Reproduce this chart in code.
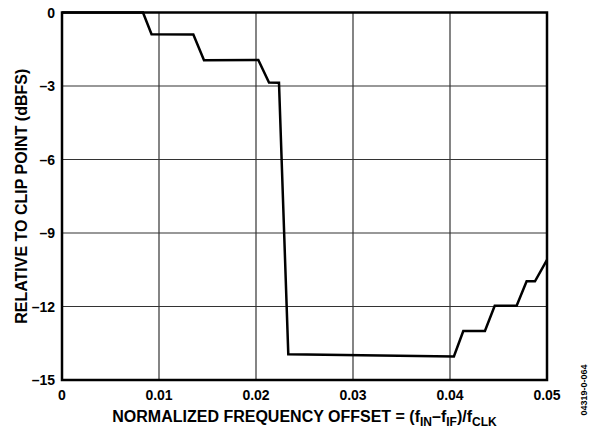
<!DOCTYPE html>
<html>
<head>
<meta charset="utf-8">
<script src="https://cdn.jsdelivr.net/npm/d3@7"></script>
<style>
  body { margin: 0; background: #fff; }
  text { font-family: Arial, "Liberation Sans", sans-serif; font-weight: bold; fill: #000; }
</style>
</head>
<body>
<script>
const width = 590;
const height = 431;

// Curve (normalized offset, dBFS).
const offsets = [0, 0.00835, 0.00923, 0.01354, 0.01464, 0.02024, 0.02134, 0.02237, 0.02333,
  0.0404, 0.04137, 0.0436, 0.04461, 0.04687, 0.0479, 0.04876, 0.05];
const levels = [0, 0, -0.89, -0.9, -1.95, -1.94, -2.86, -2.87, -13.95,
  -14.04, -13.0, -13.0, -11.97, -11.97, -10.97, -10.97, -10.1];

const xTicks = [0, 0.01, 0.02, 0.03, 0.04, 0.05];
const xTickLabels = ['0', '0.01', '0.02', '0.03', '0.04', '0.05'];
const yTicks = [0, -3, -6, -9, -12, -15];
const yTickLabels = ['0', '–3', '–6', '–9', '–12', '–15'];

let margin = { top: 12.5, right: 43, bottom: 51, left: 62 };

let svg = d3
  .select('body')
  .append('svg')
  .attr('width', width)
  .attr('height', height);

let xScale = d3
  .scaleLinear()
  .domain([0, 0.05])
  .range([margin.left, width - margin.right]);

let yScale = d3
  .scaleLinear()
  .domain([0, -15])
  .range([margin.top, height - margin.bottom]);

// Grid.
svg
  .append('g')
  .selectAll('line')
  .data(xTicks.slice(1, -1))
  .join('line')
  .attr('x1', (d) => xScale(d))
  .attr('x2', (d) => xScale(d))
  .attr('y1', yScale(0))
  .attr('y2', yScale(-15))
  .attr('stroke', '#333')
  .attr('stroke-width', 1.2);

svg
  .append('g')
  .selectAll('line')
  .data(yTicks.slice(1, -1))
  .join('line')
  .attr('x1', xScale(0))
  .attr('x2', xScale(0.05))
  .attr('y1', (d) => yScale(d))
  .attr('y2', (d) => yScale(d))
  .attr('stroke', '#333')
  .attr('stroke-width', 1.2);

// Frame.
svg
  .append('rect')
  .attr('x', xScale(0))
  .attr('y', yScale(0))
  .attr('width', xScale(0.05) - xScale(0))
  .attr('height', yScale(-15) - yScale(0))
  .attr('fill', 'none')
  .attr('stroke', '#000')
  .attr('stroke-width', 2.5);

// Tick labels.
svg
  .append('g')
  .selectAll('text')
  .data(xTicks)
  .join('text')
  .attr('x', (d) => xScale(d))
  .attr('y', yScale(-15) + 20)
  .attr('text-anchor', 'middle')
  .style('font-size', '14px')
  .text((d, i) => xTickLabels[i]);

svg
  .append('g')
  .selectAll('text')
  .data(yTicks)
  .join('text')
  .attr('x', xScale(0) - 7)
  .attr('y', (d) => yScale(d) + 5)
  .attr('text-anchor', 'end')
  .style('font-size', '14px')
  .text((d, i) => yTickLabels[i]);

// Data line.
let data = offsets.map((x, i) => ({ x: x, y: levels[i] }));
let line = d3
  .line()
  .x((d) => xScale(d.x))
  .y((d) => yScale(d.y));

svg
  .append('path')
  .datum(data)
  .attr('d', line)
  .attr('fill', 'none')
  .attr('stroke', '#000')
  .attr('stroke-width', 2.5)
  .attr('stroke-linejoin', 'miter');

// Axis titles.
let xTitle = svg
  .append('text')
  .attr('x', (xScale(0) + xScale(0.05)) / 2)
  .attr('y', 422)
  .attr('text-anchor', 'middle')
  .style('font-size', '16px');
xTitle.append('tspan').text('NORMALIZED FREQUENCY OFFSET = (f');
xTitle.append('tspan').attr('dy', 4).style('font-size', '12px').text('IN');
xTitle.append('tspan').attr('dy', -4).text('–f');
xTitle.append('tspan').attr('dy', 4).style('font-size', '12px').text('IF');
xTitle.append('tspan').attr('dy', -4).text(')/f');
xTitle.append('tspan').attr('dy', 4).style('font-size', '12px').text('CLK');

svg
  .append('text')
  .attr('transform', `translate(27, ${(yScale(0) + yScale(-15)) / 2}) rotate(-90)`)
  .attr('text-anchor', 'middle')
  .style('font-size', '16px')
  .text('RELATIVE TO CLIP POINT (dBFS)');

svg
  .append('text')
  .attr('transform', 'translate(587, 390) rotate(-90)')
  .attr('text-anchor', 'middle')
  .style('font-size', '9px')
  .text('04319-0-064');
</script>
</body>
</html>
